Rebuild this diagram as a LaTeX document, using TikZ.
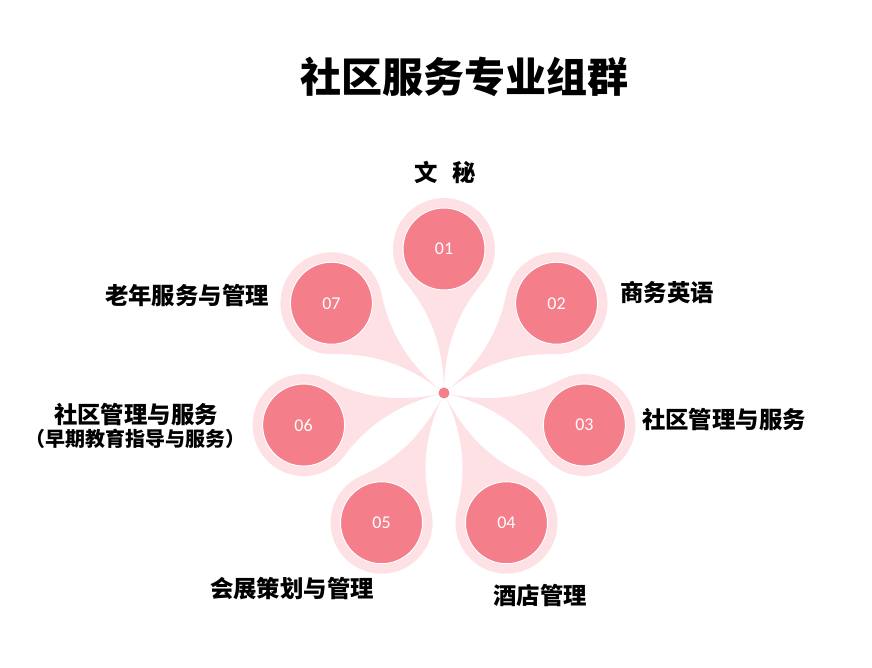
\documentclass[tikz,border=0pt]{standalone}
\usepackage{fontspec}
\setmainfont{Carlito}
\newfontfamily\cjk{Noto Sans CJK SC}
\usepackage{tikz}
\usetikzlibrary{positioning}
\definecolor{PetalRose}{HTML}{F47E8A}
\definecolor{PetalLight}{HTML}{FDE1E5}

\begin{document}
\begin{tikzpicture}[
  x=1pt, y=1pt,
  petal/.pic={
    \path[fill=PetalLight] (0,0) .. controls (55,0) and (88.2,19.8) .. (111.2,39.1)
      arc[start angle=130, end angle=-130, radius=51]
      .. controls (88.2,-19.8) and (55,0) .. cycle;
  },
  disc/.style={circle, fill=PetalRose, draw=white, line width=1pt, minimum size=82pt,
    inner sep=0pt, text=white, font=\fontsize{18}{20}\selectfont},
  hub/.style={circle, fill=PetalRose, minimum size=11pt, inner sep=0pt},
  label/.style={font=\cjk\bfseries\fontsize{23.4}{26}\selectfont, align=center},
  heading/.style={font=\cjk\bfseries\fontsize{41}{45}\selectfont}
]
  \useasboundingbox (-444,-275) rectangle (428,393);

  % petals
  \pic[rotate=90] {petal};
  \pic[rotate=38.57] {petal};
  \pic[rotate=-12.86] {petal};
  \pic[rotate=-64.29] {petal};
  \pic[rotate=-115.71] {petal};
  \pic[rotate=-167.14] {petal};
  \pic[rotate=141.43] {petal};

  \node[disc] (p1) at (90:144) {01};
  \node[disc] (p2) at (38.57:144) {02};
  \node[disc] (p3) at (-12.86:144) {03};
  \node[disc] (p4) at (-64.29:144) {04};
  \node[disc] (p5) at (-115.71:144) {05};
  \node[disc] (p6) at (-167.14:144) {06};
  \node[disc] (p7) at (141.43:144) {07};
  \node[hub] (hub) at (0,0) {};

  \node[heading] (title) at (21,316) {社区服务专业组群};

  \node[label] (l1) at (1,221) {文\hspace{0.6em}秘};
  \node[label] (l2) at (223,100) {商务英语};
  \node[label] (l3) at (280,-27) {社区管理与服务};
  \node[label] (l4) at (96,-203) {酒店管理};
  \node[label] (l5) at (-152,-196) {会展策划与管理};
  \node[label] (l6) at (-308,-33) {社区管理与服务\\[-3pt]
    {\fontsize{20}{22}\selectfont （早期教育指导与服务）}};
  \node[label] (l7) at (-257,97) {老年服务与管理};
\end{tikzpicture}
\end{document}
